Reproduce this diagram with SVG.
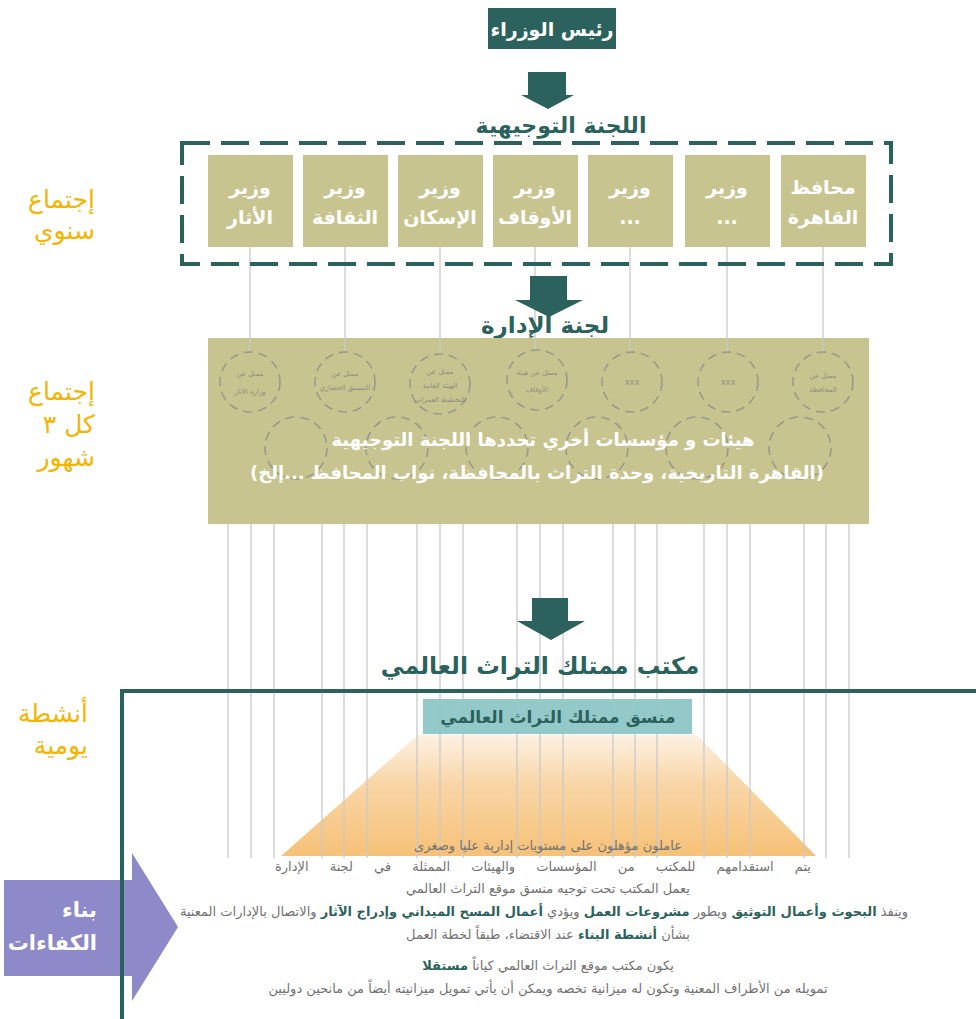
<svg xmlns="http://www.w3.org/2000/svg" width="976" height="1019" viewBox="0 0 976 1019">
<defs>
<style>
.ar{font-family:"DejaVu Sans",sans-serif;}
.t{fill:#2b625d;font-weight:bold;}
.w{fill:#ffffff;font-weight:bold;}
.lbl{fill:#f4b400;font-family:"DejaVu Sans",sans-serif;font-size:25px;}
.g{fill:#727272;font-family:"DejaVu Sans",sans-serif;font-size:13px;}
.b{fill:#2b625d;font-weight:bold;}
.box{fill:#c8c48f;}
.ln{stroke:#c9c9c9;stroke-width:1.3;fill:none;}
.circ{fill:none;stroke:#9a9a8a;stroke-width:1.6;stroke-dasharray:9 6;}
.ct{fill:#8d8d80;font-family:"DejaVu Sans",sans-serif;font-size:7px;}
.arr{fill:#2b625d;}
</style>
<linearGradient id="og" x1="0" y1="0" x2="0" y2="1">
<stop offset="0" stop-color="#fdf1e2"/>
<stop offset="0.4" stop-color="#f9d6a8"/>
<stop offset="1" stop-color="#f6c177"/>
</linearGradient>
</defs>

<!-- left labels -->
<g id="labels">
<text class="lbl" x="95" y="208" text-anchor="end">إجتماع</text>
<text class="lbl" x="95" y="239" text-anchor="end">سنوي</text>
<text class="lbl" x="95" y="400" text-anchor="end">إجتماع</text>
<text class="lbl" x="95" y="433" text-anchor="end">كل ٣</text>
<text class="lbl" x="95" y="466" text-anchor="end">شهور</text>
<text class="lbl" x="88" y="722" text-anchor="end">أنشطة</text>
<text class="lbl" x="88" y="754" text-anchor="end">يومية</text>
</g>

<!-- connectors -->
<g id="connectors">
<line class="ln" x1="250" y1="247" x2="250" y2="352"/>
<line class="ln" x1="345" y1="247" x2="345" y2="352"/>
<line class="ln" x1="440" y1="247" x2="440" y2="352"/>
<line class="ln" x1="535" y1="247" x2="535" y2="350"/>
<line class="ln" x1="630" y1="247" x2="630" y2="352"/>
<line class="ln" x1="727" y1="247" x2="727" y2="352"/>
<line class="ln" x1="823" y1="247" x2="823" y2="352"/>
<path class="arr" d="M528,72 H566 V95 H574 L548,109 L521,95 H528 Z"/>
<path class="arr" d="M530,276 H567 V300 H583 L549,317 L515,300 H530 Z"/>
</g>

<!-- top node -->
<g id="pm">
<rect x="488" y="8" width="128" height="41" fill="#2b625d"/>
<text class="ar w" x="552" y="36" font-size="19" text-anchor="middle">رئيس الوزراء</text>
</g>

<g id="steering">
<text class="ar t" x="561" y="133" font-size="22" text-anchor="middle">اللجنة التوجيهية</text>
<rect x="182" y="143" width="709" height="121" fill="none" stroke="#2b625d" stroke-width="4" stroke-dasharray="28 11"/>
</g>

<g id="min1"><rect class="box" x="208" y="155" width="85" height="92"/><text class="ar w" font-size="19" text-anchor="middle"><tspan x="250" y="194">وزير</tspan><tspan x="250" y="224">الأثار</tspan></text></g>
<g id="min2"><rect class="box" x="303" y="155" width="85" height="92"/><text class="ar w" font-size="19" text-anchor="middle"><tspan x="345" y="194">وزير</tspan><tspan x="345" y="224">الثقافة</tspan></text></g>
<g id="min3"><rect class="box" x="398" y="155" width="85" height="92"/><text class="ar w" font-size="19" text-anchor="middle"><tspan x="440" y="194">وزير</tspan><tspan x="440" y="224">الإسكان</tspan></text></g>
<g id="min4"><rect class="box" x="493" y="155" width="85" height="92"/><text class="ar w" font-size="19" text-anchor="middle"><tspan x="535" y="194">وزير</tspan><tspan x="535" y="224">الأوقاف</tspan></text></g>
<g id="min5"><rect class="box" x="588" y="155" width="85" height="92"/><text class="ar w" font-size="19" text-anchor="middle"><tspan x="630" y="194">وزير</tspan><tspan x="630" y="224">...</tspan></text></g>
<g id="min6"><rect class="box" x="685" y="155" width="85" height="92"/><text class="ar w" font-size="19" text-anchor="middle"><tspan x="727" y="194">وزير</tspan><tspan x="727" y="224">...</tspan></text></g>
<g id="gov"><rect class="box" x="781" y="155" width="85" height="92"/><text class="ar w" font-size="19" text-anchor="middle"><tspan x="823" y="194">محافظ</tspan><tspan x="823" y="224">القاهرة</tspan></text></g>

<!-- management committee -->
<g id="management">
<text class="ar t" x="545" y="333" font-size="23" text-anchor="middle">لجنة الإدارة</text>
<rect x="208" y="338" width="661" height="186" fill="#c8c48f"/>
<line class="ln" x1="250" y1="338" x2="250" y2="352"/>
<line class="ln" x1="345" y1="338" x2="345" y2="352"/>
<line class="ln" x1="440" y1="338" x2="440" y2="352"/>
<line class="ln" x1="535" y1="338" x2="535" y2="350"/>
<line class="ln" x1="630" y1="338" x2="630" y2="352"/>
<line class="ln" x1="727" y1="338" x2="727" y2="352"/>
<line class="ln" x1="823" y1="338" x2="823" y2="352"/>
<circle class="circ" cx="250" cy="382" r="30"/>
<circle class="circ" cx="345" cy="382" r="30"/>
<circle class="circ" cx="440" cy="384" r="30"/>
<circle class="circ" cx="537" cy="380" r="30"/>
<circle class="circ" cx="632" cy="382" r="30"/>
<circle class="circ" cx="728" cy="382" r="30"/>
<circle class="circ" cx="823" cy="382" r="30"/>
<circle class="circ" cx="296" cy="448" r="31"/>
<circle class="circ" cx="397" cy="448" r="31"/>
<circle class="circ" cx="497" cy="448" r="31"/>
<circle class="circ" cx="597" cy="448" r="31"/>
<circle class="circ" cx="697" cy="448" r="31"/>
<circle class="circ" cx="800" cy="448" r="31"/>
<text class="ct" text-anchor="middle"><tspan x="250" y="376">ممثل عن</tspan><tspan x="250" y="394">وزارة الآثار</tspan></text>
<text class="ct" text-anchor="middle"><tspan x="345" y="376">ممثل عن</tspan><tspan x="345" y="390">التنسيق الحضاري</tspan></text>
<text class="ct" text-anchor="middle"><tspan x="440" y="374">ممثل عن</tspan><tspan x="440" y="388">الهيئة العامة</tspan><tspan x="440" y="402">للتخطيط العمراني</tspan></text>
<text class="ct" text-anchor="middle"><tspan x="537" y="375">ممثل عن هيئة</tspan><tspan x="537" y="392">الأوقاف</tspan></text>
<text class="ct" x="632" y="385" text-anchor="middle" font-size="9">XXX</text>
<text class="ct" x="728" y="385" text-anchor="middle" font-size="9">XXX</text>
<text class="ct" text-anchor="middle"><tspan x="823" y="378">ممثل عن</tspan><tspan x="823" y="392">المحافظة</tspan></text>
<text class="ar w" font-size="18" text-anchor="middle" direction="rtl"><tspan x="543" y="446">هيئات و مؤسسات أخري تحددها اللجنة التوجيهية</tspan></text>
<text class="ar w" font-size="18" text-anchor="middle" direction="rtl"><tspan x="537" y="479">(القاهرة التاريخية، وحدة التراث بالمحافظة، نواب المحافظ ...إلخ)</tspan></text>
</g>

<!-- office -->
<g id="office">
<path d="M976,691 H122 V1019" fill="none" stroke="#2b625d" stroke-width="4"/>
<path d="M418,735 H697 L816,856 H281 Z" fill="url(#og)"/>
<g class="ln">
<line x1="228" y1="524" x2="228" y2="858"/><line x1="251" y1="524" x2="251" y2="858"/><line x1="274" y1="524" x2="274" y2="858"/>
<line x1="322" y1="524" x2="322" y2="858"/><line x1="344" y1="524" x2="344" y2="858"/><line x1="367" y1="524" x2="367" y2="858"/>
<line x1="417" y1="524" x2="417" y2="858"/><line x1="440" y1="524" x2="440" y2="858"/><line x1="463" y1="524" x2="463" y2="858"/>
<line x1="517" y1="524" x2="517" y2="858"/><line x1="540" y1="524" x2="540" y2="858"/><line x1="563" y1="524" x2="563" y2="858"/>
<line x1="613" y1="524" x2="613" y2="858"/><line x1="635" y1="524" x2="635" y2="858"/><line x1="657" y1="524" x2="657" y2="858"/>
<line x1="704" y1="524" x2="704" y2="858"/><line x1="727" y1="524" x2="727" y2="858"/><line x1="750" y1="524" x2="750" y2="858"/>
<line x1="804" y1="524" x2="804" y2="858"/><line x1="826" y1="524" x2="826" y2="858"/><line x1="849" y1="524" x2="849" y2="858"/>
</g>
<path class="arr" d="M532,598 H568 V621 H585 L551,640 L517,621 H532 Z"/>
<text class="ar t" x="540" y="674" font-size="23.5" text-anchor="middle">مكتب ممتلك التراث العالمي</text>
<path d="M976,691 H122" fill="none" stroke="#2b625d" stroke-width="4"/>
</g>

<g id="coordinator">
<rect x="423" y="699" width="269" height="35" fill="#8ec6c6" fill-opacity="0.95"/>
<text class="ar t" x="558" y="723" font-size="17" text-anchor="middle">منسق ممتلك التراث العالمي</text>
</g>

<g id="capacity">
<path d="M4,880 H132 V853 L178,927 L132,1001 V976 H4 Z" fill="#8e89c9"/>
<path d="M122,860 V1019" fill="none" stroke="#2b625d" stroke-width="4"/>
<text class="ar w" font-size="21" text-anchor="end"><tspan x="97" y="917">بناء</tspan><tspan x="97" y="950">الكفاءات</tspan></text>
</g>

<g id="texts">
<text class="g" x="548" y="850" text-anchor="middle" direction="rtl">عاملون مؤهلون على مستويات إدارية عليا وصغرى</text>
<text class="g" x="543" y="871" text-anchor="middle" direction="rtl" word-spacing="17">يتم استقدامهم للمكتب من المؤسسات والهيئات الممثلة في لجنة الإدارة</text>
<text class="g" x="548" y="893" text-anchor="middle" direction="rtl">يعمل المكتب تحت توجيه منسق موقع التراث العالمي</text>
<text class="g" x="544" y="916" text-anchor="middle" direction="rtl">وينفذ <tspan class="b">البحوث وأعمال التوثيق</tspan> ويطور <tspan class="b">مشروعات العمل</tspan> ويؤدي <tspan class="b">أعمال المسح الميداني وإدراج الآثار</tspan> والاتصال بالإدارات المعنية</text>
<text class="g" x="548" y="939" text-anchor="middle" direction="rtl">بشأن <tspan class="b">أنشطة البناء</tspan> عند الاقتضاء، طبقاً لخطة العمل</text>
<text class="g" x="548" y="970" text-anchor="middle" direction="rtl">يكون مكتب موقع التراث العالمي كياناً <tspan class="b">مستقلا</tspan></text>
<text class="g" x="548" y="993" text-anchor="middle" direction="rtl">تمويله من الأطراف المعنية وتكون له ميزانية تخصه ويمكن أن يأتي تمويل ميزانيته أيضاً من مانحين دوليين</text>
</g>
</svg>
